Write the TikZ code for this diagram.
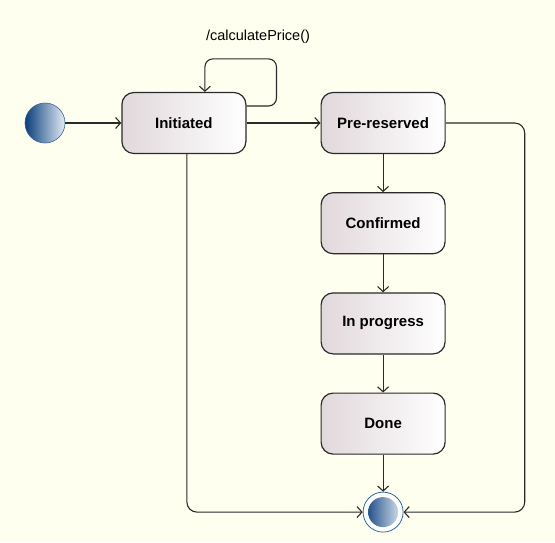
\documentclass[tikz,border=0pt]{standalone}
\usepackage{fontspec}
\setmainfont{Liberation Sans}
\usepackage{tikz}
\usetikzlibrary{arrows.meta,positioning,calc}
\definecolor{paper}{HTML}{FEFFEF}
\definecolor{edge}{HTML}{2A2A2A}
\definecolor{statefill}{HTML}{E1D8DB}
\definecolor{darkblue}{HTML}{0B3E7C}
\definecolor{lightblue}{HTML}{E3ECF6}
\definecolor{ringblue}{HTML}{2F6AA8}

\begin{document}
\begin{tikzpicture}[
    x=1pt, y=1pt,
    node distance=38pt and 74pt,
    state/.style={draw=edge, line width=1.2pt, rounded corners=12pt, align=center, minimum width=124pt, minimum height=61pt, left color=statefill, right color=white, font=\fontsize{15}{18}\selectfont\bfseries},
    initial/.style={circle, draw=darkblue!80, line width=0.6pt, minimum size=40pt, inner sep=0pt, left color=darkblue, right color=lightblue},
    final/.style={circle, draw=ringblue, line width=0.8pt, minimum size=40pt, inner sep=0pt, fill=white,
        path picture={\shade[left color=darkblue, right color=lightblue] (path picture bounding box.center) circle (15pt);}},
    guard/.style={font=\fontsize{14.5}{17}\selectfont},
    arrow/.style={-{Straight Barb[length=5pt,width=11pt]}, draw=edge, line width=1.1pt}
]
\fill[paper] (0,0) rectangle (555,-542);
\node[initial] (start) at (45,-123) {};
\node[state, right=56pt of start] (initiated) {Initiated};
\node[state, right=of initiated] (prereserved) {Pre-reserved};
\node[state, below=of prereserved] (confirmed) {Confirmed};
\node[state, below=of confirmed] (inprogress) {In progress};
\node[state, below=of inprogress] (done) {Done};
\node[final, below=37pt of done] (end) {};
\node[guard] (calcprice) at (258,-37) {/calculatePrice()};
\coordinate[right=79pt of prereserved.east] (rightturn);
\draw[arrow] (start) -- (initiated);
\draw[arrow, rounded corners=8pt] ([yshift=17pt]initiated.east) -- ++(30,0) |- ([xshift=21pt,yshift=33pt]initiated.north) -- ([xshift=21pt]initiated.north);
\draw[arrow] (initiated) -- (prereserved);
\draw[arrow] (prereserved) -- (confirmed);
\draw[arrow] (confirmed) -- (inprogress);
\draw[arrow] (inprogress) -- (done);
\draw[arrow] (done) -- (end);
\draw[arrow, rounded corners=10pt] ([xshift=3pt]initiated.south) |- (end.west);
\draw[arrow, rounded corners=10pt] (prereserved.east) -- (rightturn) |- (end.east);
\end{tikzpicture}
\end{document}
